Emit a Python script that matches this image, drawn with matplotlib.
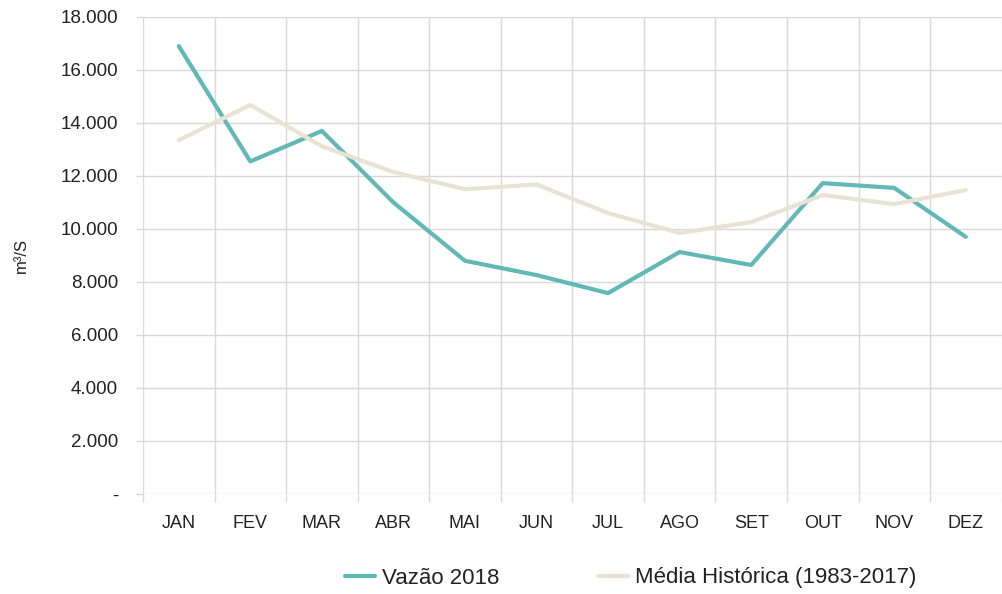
import numpy as np
import matplotlib.pyplot as plt
from matplotlib.ticker import FuncFormatter, FixedLocator

plt.rcParams['font.family'] = ['Liberation Sans', 'DejaVu Sans']

meses = ['JAN', 'FEV', 'MAR', 'ABR', 'MAI', 'JUN', 'JUL', 'AGO', 'SET', 'OUT', 'NOV', 'DEZ']
vazao_2018 = [16900, 12550, 13700, 11000, 8800, 8260, 7580, 9130, 8640, 11730, 11550, 9700]
media_hist = [13350, 14680, 13120, 12150, 11500, 11680, 10600, 9850, 10260, 11280, 10940, 11470]

cor_grid = '#d9d9d9'

fig = plt.figure(figsize=(10.03, 5.94), dpi=100)
ax = fig.add_axes([0.1426, 0.1684, 0.856, 0.803])

x = np.arange(len(meses))
ax.plot(x, vazao_2018, color='#62b8b5', lw=3, label='Vazão 2018', solid_capstyle='round', zorder=3)
ax.plot(x, media_hist, color='#e9e3d5', lw=3, label='Média Histórica (1983-2017)', solid_capstyle='round', zorder=3)

ax.set_xlim(-0.5, 11.5)
ax.set_ylim(0, 18000)
ax.set_yticks(np.arange(0, 18001, 2000))
ax.yaxis.set_major_formatter(FuncFormatter(lambda v, p: '-' if v == 0 else f'{int(v):,}'.replace(',', '.')))
ax.set_xticks(x)
ax.set_xticklabels(meses)
ax.xaxis.set_minor_locator(FixedLocator(np.arange(-0.5, 12, 1)))

ax.grid(True, which='major', axis='y', color=cor_grid, lw=1)
ax.grid(True, which='minor', axis='x', color=cor_grid, lw=1)
ax.tick_params(axis='x', which='major', length=0, pad=15, labelsize=13, colors='#222222')
ax.tick_params(axis='x', which='minor', length=6, color=cor_grid, width=1)
ax.tick_params(axis='y', length=5, color=cor_grid, width=1, labelsize=13.5, pad=13, labelcolor='#222222')
for s in ax.spines.values():
    s.set_visible(False)
ax.set_axisbelow(True)

ax.set_ylabel('m³/S', fontsize=12, labelpad=23, color='#222222')

leg = fig.legend(loc='center left', bbox_to_anchor=(345 / 1003, 1 - 578 / 594), ncol=2, frameon=False,
                 fontsize=16, handlelength=1.35, columnspacing=4.45, handletextpad=0.32,
                 borderpad=0, borderaxespad=0)
for t in leg.get_texts():
    t.set_color('#222222')

fig.savefig('out.png', dpi=100)
